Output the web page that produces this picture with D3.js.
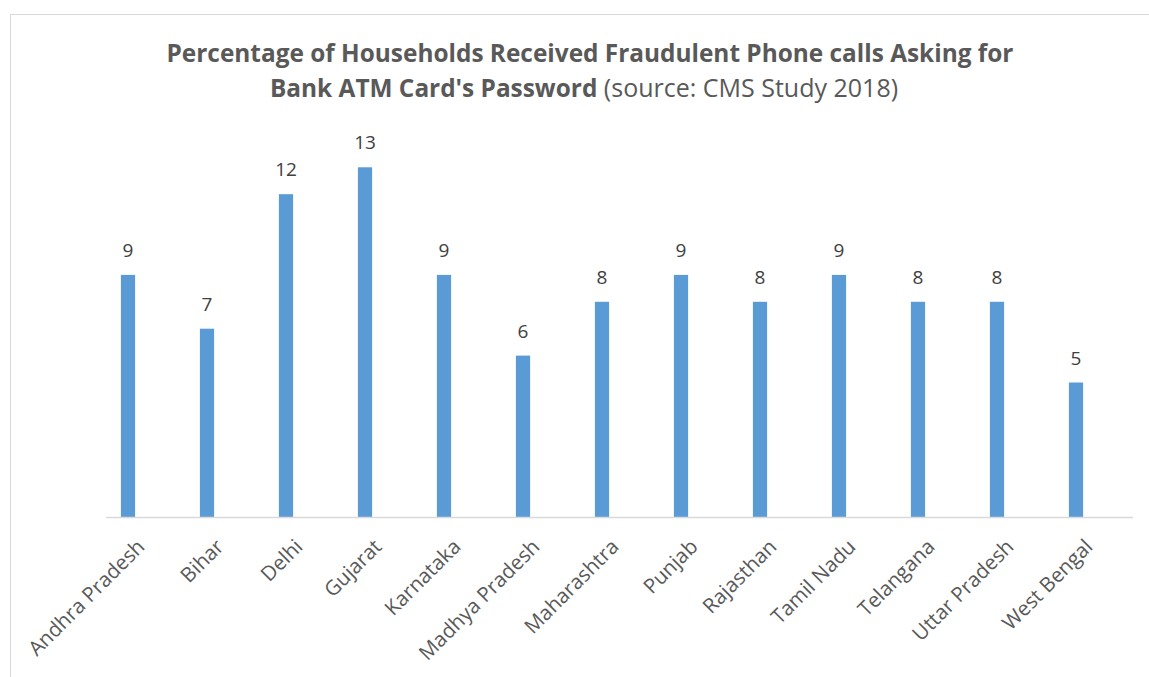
<!DOCTYPE html>
<html>
<head>
<meta charset="utf-8">
<script src="https://cdn.jsdelivr.net/npm/d3@7"></script>
<style>
  body { margin: 0; background: #fff; }
  svg { display: block; font-family: 'Open Sans', sans-serif; }
</style>
</head>
<body>
<svg id="chart" width="1149" height="677"></svg>
<script>
// States surveyed and share of households receiving fraud calls (%)
const states = ['Andhra Pradesh', 'Bihar', 'Delhi', 'Gujarat', 'Karnataka',
  'Madhya Pradesh', 'Maharashtra', 'Punjab', 'Rajasthan', 'Tamil Nadu',
  'Telangana', 'Uttar Pradesh', 'West Bengal'];
const percentages = [9, 7, 12, 13, 9, 6, 8, 9, 8, 9, 8, 8, 5];
const yDomain = [0, 14];

const baseY = 517;
const svg = d3.select('#chart');

// chart area border (runs off the right and bottom edges)
svg.append('rect')
    .attr('x', 10.5).attr('y', 14.5)
    .attr('width', 1200).attr('height', 800)
    .attr('fill', 'none')
    .attr('stroke', '#d9d9d9');

const x = d3.scaleBand()
    .domain(states)
    .range([88.5, 1115.5])
    .paddingInner(0.82)
    .paddingOuter(0.41);

const y = d3.scaleLinear()
    .domain(yDomain)
    .range([baseY, baseY - 26.9 * yDomain[1]]);

// bars
svg.append('g')
    .attr('fill', '#5b9bd5')
    .selectAll('rect')
    .data(percentages)
    .join('rect')
    .attr('x', (d, i) => x(states[i]))
    .attr('y', (d) => y(d))
    .attr('width', x.bandwidth())
    .attr('height', (d) => y(0) - y(d));

// value labels
svg.append('g')
    .selectAll('text')
    .data(percentages)
    .join('text')
    .attr('x', (d, i) => x(states[i]) + x.bandwidth() / 2)
    .attr('y', (d) => y(d) - 18)
    .attr('text-anchor', 'middle')
    .attr('fill', '#404040')
    .style('font-size', '19px')
    .text((d) => d);

// x axis line (a bit wider than the bars on the right, like Excel)
svg.append('line')
    .attr('x1', 106).attr('x2', 1133)
    .attr('y1', y(0) + 0.5).attr('y2', y(0) + 0.5)
    .attr('stroke', '#d9d9d9')
    .attr('stroke-width', 1.5);

const xAxis = svg.append('g')
    .attr('transform', `translate(0,${y(0)})`)
    .call(d3.axisBottom(x).tickSize(0).tickSizeOuter(0));
xAxis.select('.domain').remove();
xAxis.selectAll('.tick text')
    .attr('fill', '#595959')
    .style('font-size', '20.5px')
    .style('font-family', "'Open Sans', sans-serif")
    .attr('text-anchor', 'end')
    .attr('dy', 0)
    .attr('x', 0).attr('y', 0)
    .attr('transform', 'translate(18,31) rotate(-45)');

// title
const title = svg.append('text')
    .attr('text-anchor', 'middle')
    .attr('fill', '#595959')
    .style('font-size', '24.4px');
title.append('tspan')
    .attr('x', 590).attr('y', 62)
    .style('font-weight', 'bold')
    .text('Percentage of Households Received Fraudulent Phone calls Asking for');
title.append('tspan')
    .attr('x', 584).attr('y', 97)
    .style('font-weight', 'bold')
    .text('Bank ATM Card\'s Password');
title.append('tspan')
    .style('font-size', '25px')
    .text(' (source: CMS Study 2018)');
</script>
</body>
</html>
